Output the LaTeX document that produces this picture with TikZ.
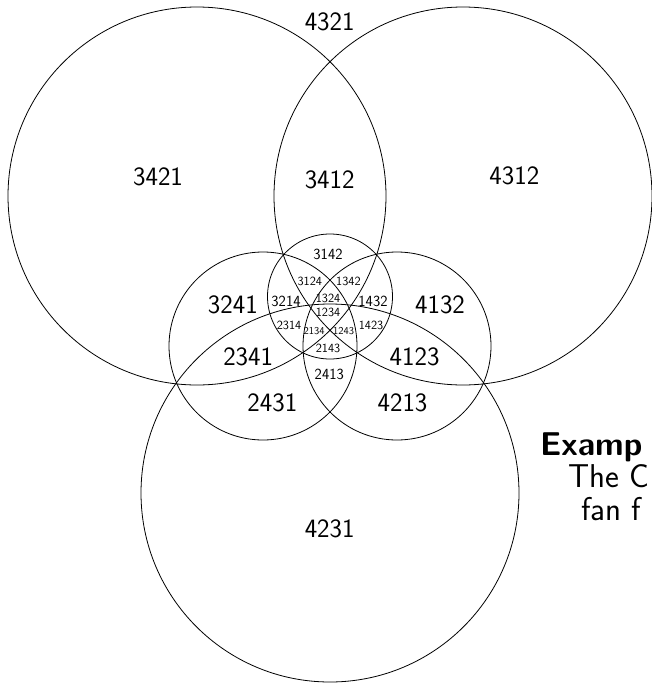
\documentclass[tikz,border=0pt]{standalone}
\usepackage{fontspec}
\begin{document}
\begin{tikzpicture}[x=1pt,y=-1pt,
  circ/.style={draw=black, line width=0.8pt},
  lbig/.style={font=\sffamily\fontsize{26.5}{30}\selectfont, inner sep=0pt},
  lmid/.style={font=\sffamily\fontsize{15.5}{18}\selectfont, inner sep=0pt},
  lsmall/.style={font=\sffamily\fontsize{12.5}{14}\selectfont, inner sep=0pt},
  ltiny/.style={font=\sffamily\fontsize{10.5}{12}\selectfont, inner sep=0pt},
  caption/.style={font=\sffamily\fontsize{33}{38}\selectfont, inner sep=0pt, anchor=base west}]
\useasboundingbox (0,0) rectangle (652,683);
% six circles
\draw[circ] (197,196) circle[radius=189pt];
\draw[circ] (463,196) circle[radius=189pt];
\draw[circ] (330,493) circle[radius=189pt];
\draw[circ] (263,346) circle[radius=94pt];
\draw[circ] (397,346) circle[radius=94pt];
\draw[circ] (330,296.5) circle[radius=62.5pt];
% large labels
\node[lbig] (n4321) at (329.7,21.8) {4321};
\node[lbig] (n3421) at (158,176.4) {3421};
\node[lbig] (n3412) at (329.7,180) {3412};
\node[lbig] (n4312) at (514.3,175.5) {4312};
\node[lbig] (n3241) at (232.8,305) {3241};
\node[lbig] (n4132) at (440,305) {4132};
\node[lbig] (n2341) at (248.2,357) {2341};
\node[lbig] (n4123) at (414.6,357) {4123};
\node[lbig] (n2431) at (272.3,403) {2431};
\node[lbig] (n4213) at (402.5,403) {4213};
\node[lbig] (n4231) at (329.7,529) {4231};
% medium labels
\node[lmid] (n3142) at (328,254) {3142};
\node[lmid] (n3214) at (286,301.4) {3214};
\node[lmid] (n1432) at (373,301.4) {1432};
\node[lmid] (n2413) at (329.3,374.6) {2413};
% small labels
\node[lsmall] (n3124) at (309.8,281) {3124};
\node[lsmall] (n1342) at (348.4,281) {1342};
\node[lsmall] (n1324) at (328,298.8) {1324};
\node[lsmall] (n1234) at (328,312.7) {1234};
\node[lsmall] (n2314) at (289,325) {2314};
\node[lsmall] (n1423) at (371,325) {1423};
\node[lsmall] (n2143) at (328,348.4) {2143};
% tiny labels
\node[ltiny] (n2134) at (314,331) {2134};
\node[ltiny] (n1243) at (343.5,331) {1243};
% caption (clipped by the page edge)
\node[caption] (cap1) at (540,455) {\bfseries Examp};
\node[caption] (cap2) at (568,487.5) {The C};
\node[caption] (cap3) at (581,520) {fan f};
\end{tikzpicture}
\end{document}
